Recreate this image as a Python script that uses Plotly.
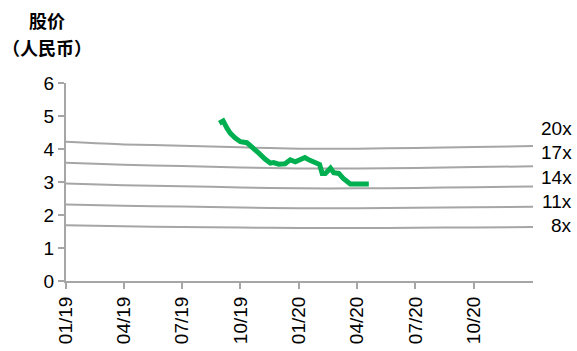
import plotly.graph_objects as go

# Share price (RMB)
price_dates = [
    "2019-08-29", "2019-09-04", "2019-09-10", "2019-09-15", "2019-09-23",
    "2019-10-01", "2019-10-11", "2019-10-19", "2019-10-29", "2019-11-09",
    "2019-11-17", "2019-11-22", "2019-11-30", "2019-12-10", "2019-12-18",
    "2019-12-26", "2020-01-03", "2020-01-10", "2020-01-16", "2020-01-26",
    "2020-02-02", "2020-02-06", "2020-02-11", "2020-02-19", "2020-02-24",
    "2020-03-03", "2020-03-10", "2020-03-21", "2020-04-06", "2020-04-19",
]
price_values = [
    4.78, 4.85, 4.63, 4.48, 4.33,
    4.22, 4.19, 4.07, 3.89, 3.69,
    3.57, 3.59, 3.54, 3.55, 3.67,
    3.61, 3.68, 3.74, 3.67, 3.59,
    3.53, 3.26, 3.26, 3.42, 3.28,
    3.26, 3.11, 2.94, 2.94, 2.94,
]

# Forward EPS used for the P/E bands
eps_dates = [
    "2019-01-01", "2019-04-01", "2019-07-01", "2019-10-01", "2020-01-01",
    "2020-04-01", "2020-07-01", "2020-10-01", "2021-01-01",
]
eps_values = [0.2110, 0.2070, 0.2050, 0.2025, 0.2005, 0.2005, 0.2015, 0.2030, 0.2045]

multiples = [20, 17, 14, 11, 8]
band_labels = ["20x", "17x", "14x", "11x", "8x"]
label_positions = [4.61, 3.88, 3.15, 2.42, 1.69]

tick_dates = ["2019-01-01", "2019-04-01", "2019-07-01", "2019-10-01",
              "2020-01-01", "2020-04-01", "2020-07-01", "2020-10-01"]
tick_text = ["01/19", "04/19", "07/19", "10/19", "01/20", "04/20", "07/20", "10/20"]

LATIN = "Arial, Liberation Sans, sans-serif"
CJK = "Noto Sans CJK SC, sans-serif"
AXIS_GREY = "#a6a6a6"

fig = go.Figure()

for m in multiples:
    fig.add_trace(go.Scatter(
        x=eps_dates, y=[e * m for e in eps_values],
        mode="lines", line=dict(color="#a6a6a6", width=2, shape="spline", smoothing=0.6),
        hoverinfo="skip", showlegend=False,
    ))

fig.add_trace(go.Scatter(
    x=price_dates, y=price_values, mode="lines",
    line=dict(color="#00b050", width=5), showlegend=False,
))

annotations = []
for lab, pos in zip(band_labels, label_positions):
    annotations.append(dict(
        x=1.088, xref="paper", y=pos, yref="y", text=lab, showarrow=False,
        xanchor="right", yanchor="middle", font=dict(family=LATIN, size=19, color="#000"),
    ))
annotations.append(dict(
    x=-0.041, xref="paper", y=1.318, yref="paper", text="<b>股价</b>", showarrow=False,
    xanchor="center", yanchor="middle", font=dict(family=CJK, size=18, color="#000"),
))
annotations.append(dict(
    x=-0.041, xref="paper", y=1.182, yref="paper", text="<b>（人民币）</b>", showarrow=False,
    xanchor="center", yanchor="middle", font=dict(family=CJK, size=18, color="#000"),
))

fig.update_layout(
    width=577, height=351,
    margin=dict(l=66, r=44, t=83, b=70),
    paper_bgcolor="white", plot_bgcolor="white",
    annotations=annotations,
    xaxis=dict(
        type="date", range=["2019-01-01", "2021-01-01"],
        tickvals=tick_dates, ticktext=tick_text, tickangle=-90,
        showgrid=False, zeroline=False, automargin=False,
        showline=True, linecolor=AXIS_GREY, linewidth=2,
        ticks="outside", ticklen=6, tickwidth=2, tickcolor=AXIS_GREY,
        tickfont=dict(family=LATIN, size=19, color="#000"),
    ),
    yaxis=dict(
        range=[0, 6], dtick=1, showgrid=False, zeroline=False, automargin=False,
        showline=True, linecolor=AXIS_GREY, linewidth=2,
        ticks="outside", ticklen=6, tickwidth=2, tickcolor=AXIS_GREY,
        tickfont=dict(family=LATIN, size=19, color="#000"),
    ),
)

fig.write_html("out.html")
